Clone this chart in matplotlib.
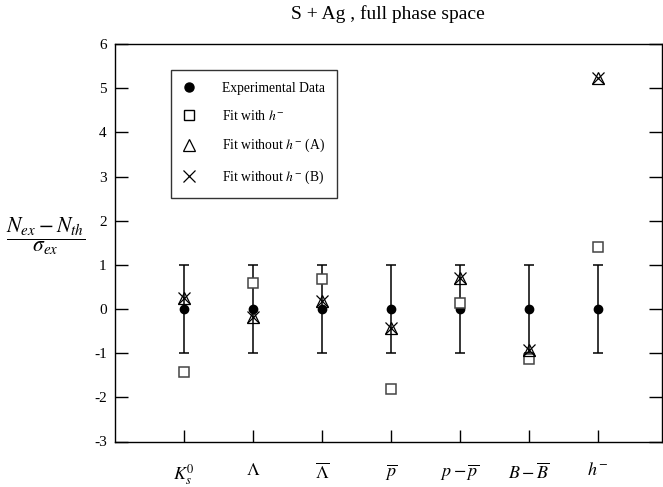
import matplotlib.pyplot as plt
from matplotlib.lines import Line2D
import numpy as np

plt.rcParams["font.family"] = ["Liberation Serif", "DejaVu Serif"]
plt.rcParams["mathtext.fontset"] = "stix"

# particle species on the x axis
species = [r"$K_s^0$", r"$\Lambda$", r"$\overline{\Lambda}$", r"$\overline{p}$",
           r"$p-\overline{p}$", r"$B-\overline{B}$", r"$h^{-}$"]
exp_data = [0, 0, 0, 0, 0, 0, 0]
exp_err = [1, 1, 1, 1, 1, 1, 1]
fit_with_h = [-1.42, 0.60, 0.67, -1.82, 0.14, -1.14, 1.40]
fit_without_a = [0.25, -0.17, 0.18, -0.44, 0.71, -0.93, 5.22]
fit_without_b = [0.24, -0.18, 0.17, -0.43, 0.70, -0.92, 5.23]

x = np.arange(1, len(species) + 1)

fig = plt.figure(figsize=(6.63, 4.87), dpi=100)
ax = fig.add_axes([115 / 663, 45.5 / 487, 547 / 663, 397.5 / 487])

ax.errorbar(x, exp_data, yerr=exp_err, fmt="o", color="black", ms=6,
            ecolor="black", elinewidth=1.1, capsize=3.8, capthick=1.1, zorder=3)
ax.plot(x, fit_with_h, "s", ms=7, mfc="white", mec="#444444", mew=1.1, zorder=4)
ax.plot(x, fit_without_a, "^", ms=8, mfc="none", mec="black", mew=0.9, zorder=5)
ax.plot(x, fit_without_b, "x", ms=8.5, color="black", mew=0.9, zorder=5)

ax.set_xlim(0, 7.93)
ax.set_ylim(-3, 6)
ax.set_xticks(x)
ax.set_xticklabels(species, fontsize=13)
ax.set_yticks(range(-3, 7))
ax.set_yticklabels([str(v) if v >= 0 else "-" + str(-v) for v in range(-3, 7)], fontsize=11)

ax.tick_params(axis="x", direction="in", length=9, width=1, pad=15)
ax.tick_params(axis="y", direction="in", length=9.5, width=1, right=True, pad=6)
for spine in ax.spines.values():
    spine.set_linewidth(1)

fig.text(388 / 663, 1 - 14 / 487, "S + Ag , full phase space",
         fontsize=14, ha="center", va="center")
fig.text(46 / 663, 1 - 236 / 487, r"$\dfrac{N_{ex}-N_{th}}{\sigma_{ex}}$",
         fontsize=15.5, ha="center", va="center")

handles = [
    Line2D([], [], ls="none", marker="o", ms=6.5, color="black"),
    Line2D([], [], ls="none", marker="s", ms=7, mfc="white", mec="black", mew=1),
    Line2D([], [], ls="none", marker="^", ms=8.5, mfc="none", mec="black", mew=0.9),
    Line2D([], [], ls="none", marker="x", ms=9, color="black", mew=0.9),
]
labels = ["Experimental Data", r"Fit with $h^{-}$",
          r"Fit without $h^{-}$ (A)", r"Fit without $h^{-}$ (B)"]
leg = fig.legend(handles, labels, loc="upper left",
                 bbox_to_anchor=(171 / 663, 1 - 70 / 487), fontsize=9.8,
                 frameon=True, fancybox=False, edgecolor="black",
                 handlelength=1.0, handletextpad=1.9, labelspacing=1.05,
                 borderpad=0.85, borderaxespad=0)
leg.get_frame().set_linewidth(1)

fig.savefig("out.png", dpi=100)
